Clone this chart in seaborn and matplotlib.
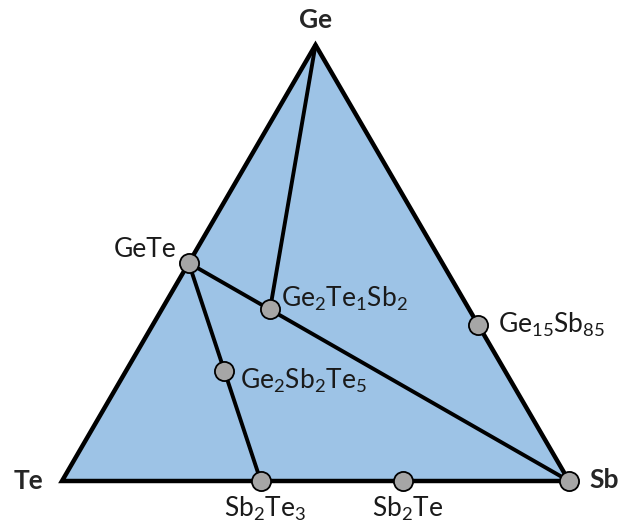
import numpy as np
import pandas as pd
import seaborn as sns
import matplotlib.pyplot as plt

# compositions as fractions of Ge and Sb (Te is the rest)
names = ["GeTe", "Ge2Te1Sb2", "Ge15Sb85", "Ge2Sb2Te5", "Sb2Te3", "Sb2Te", "Sb"]
ge_frac = [0.50, 0.395, 0.358, 0.252, 0.0, 0.0, 0.0]
sb_frac = [0.0, 0.213, 0.642, 0.194, 0.392, 0.673, 1.0]
point_labels = ["GeTe", "Ge$_2$Te$_1$Sb$_2$", "Ge$_{15}$Sb$_{85}$", "Ge$_2$Sb$_2$Te$_5$",
                "Sb$_2$Te$_3$", "Sb$_2$Te", ""]

# corners of the triangle
corner_names = ["Te", "Sb", "Ge"]
corner_ge = [0.0, 0.0, 1.0]
corner_sb = [0.0, 1.0, 0.0]

# tie lines between compositions
tie_lines = [("Ge", "Ge2Te1Sb2"), ("GeTe", "Sb"), ("GeTe", "Sb2Te3")]


def to_xy(ge, sb):
    ge = np.asarray(ge, dtype=float)
    sb = np.asarray(sb, dtype=float)
    return sb + ge / 2, ge * np.sqrt(3) / 2


sns.set_style("white")
plt.rcParams["font.family"] = ["Lato", "DejaVu Sans"]
plt.rcParams["mathtext.fontset"] = "custom"
plt.rcParams["mathtext.rm"] = "Lato"
plt.rcParams["mathtext.default"] = "regular"

fig = plt.figure(figsize=(6.2, 5.24), dpi=100)
ax = fig.add_axes([0, 0, 1, 1])

pts = pd.DataFrame({"name": names, "ge": ge_frac, "sb": sb_frac})
pts["x"], pts["y"] = to_xy(pts["ge"], pts["sb"])
corners = pd.DataFrame({"name": corner_names, "ge": corner_ge, "sb": corner_sb})
corners["x"], corners["y"] = to_xy(corners["ge"], corners["sb"])

# triangle
ax.fill(corners["x"], corners["y"], facecolor="#9dc3e6", edgecolor="black",
        linewidth=3.2, joinstyle="miter", zorder=1)

# tie lines
lookup = pd.concat([pts, corners]).drop_duplicates("name").set_index("name")
for a, b in tie_lines:
    seg = lookup.loc[[a, b]].reset_index()
    sns.lineplot(data=seg, x="x", y="y", sort=False, color="black",
                 linewidth=2.8, ax=ax, zorder=2)

sns.scatterplot(data=pts, x="x", y="y", s=190, color="#a6a6a6",
                edgecolor="black", linewidth=1.3, ax=ax, zorder=3)

# labels next to points (offsets in points)
offsets = {
    "GeTe": (-9, 10, "right", "center"),
    "Ge2Te1Sb2": (8, 7, "left", "center"),
    "Ge15Sb85": (14, 0, "left", "center"),
    "Ge2Sb2Te5": (11, -7, "left", "center"),
    "Sb2Te3": (3, -10, "center", "top"),
    "Sb2Te": (3, -10, "center", "top"),
}
for _, r in pts.iterrows():
    lab = point_labels[names.index(r["name"])]
    if not lab:
        continue
    dx, dy, ha, va = offsets[r["name"]]
    ax.annotate(lab, (r["x"], r["y"]), xytext=(dx, dy), textcoords="offset points",
                ha=ha, va=va, fontsize=19, color="#1a1a1a")

# corner labels
ax.annotate("Ge", (corners["x"][2], corners["y"][2]), xytext=(0, 12),
            textcoords="offset points", ha="center", va="baseline",
            fontsize=19, fontweight="bold")
ax.annotate("Te", (corners["x"][0], corners["y"][0]), xytext=(-24, 0),
            textcoords="offset points", ha="center", va="center",
            fontsize=19, fontweight="bold")
ax.annotate("Sb", (corners["x"][1], corners["y"][1]), xytext=(25, 1),
            textcoords="offset points", ha="center", va="center",
            fontsize=19, fontweight="bold")

ax.set_xlim(-62 / 507, 558 / 507)
ax.set_ylim(-43 / 503.5, 481 / 503.5)
ax.set_axis_off()

fig.savefig("out.png", dpi=100)
